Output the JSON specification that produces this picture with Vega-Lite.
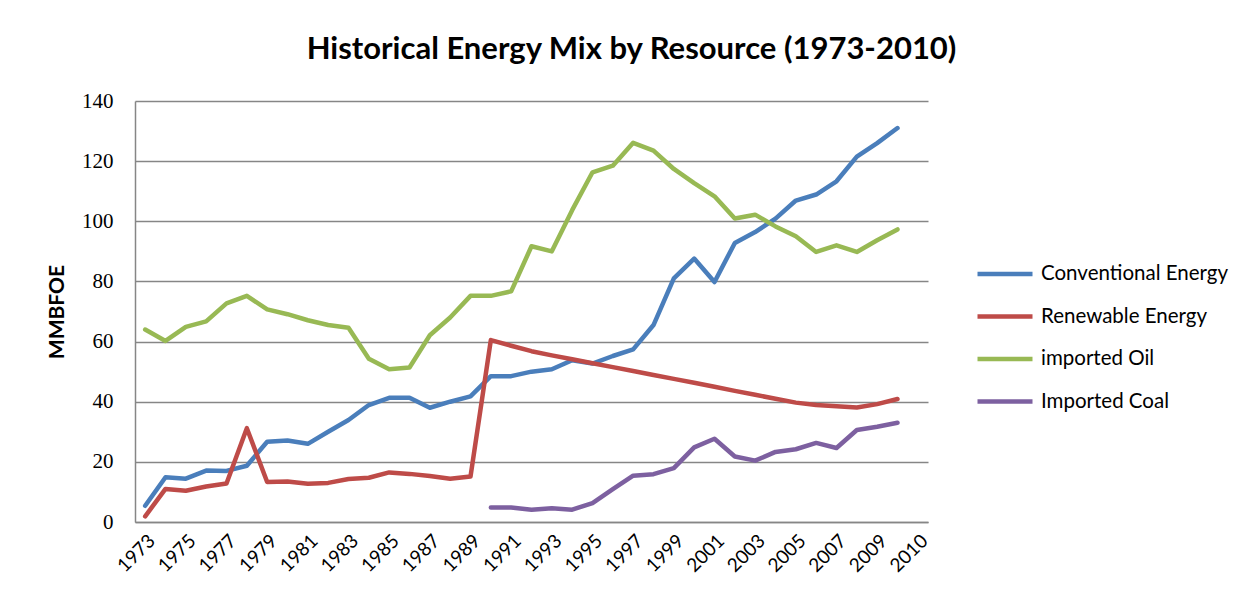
{
  "$schema": "https://vega.github.io/schema/vega-lite/v6.json",
  "autosize": {"type": "none"},
  "width": 793,
  "height": 421,
  "padding": {"left": 135, "top": 101, "right": 329, "bottom": 77},
  "background": "white",
  "title": {
    "text": "Historical Energy Mix by Resource (1973-2010)",
    "font": "Lato",
    "fontSize": 31,
    "fontWeight": "bold",
    "color": "#000000",
    "anchor": "middle",
    "dx": 100,
    "offset": 24
  },
  "config": {
    "view": {"stroke": null},
    "font": "Lato"
  },
  "data": {
    "values": [
      {"year": 1973, "series": "Conventional Energy", "value": 5.4},
      {"year": 1974, "series": "Conventional Energy", "value": 14.9},
      {"year": 1975, "series": "Conventional Energy", "value": 14.4},
      {"year": 1976, "series": "Conventional Energy", "value": 17.1},
      {"year": 1977, "series": "Conventional Energy", "value": 17.0},
      {"year": 1978, "series": "Conventional Energy", "value": 18.7},
      {"year": 1979, "series": "Conventional Energy", "value": 26.7},
      {"year": 1980, "series": "Conventional Energy", "value": 27.1},
      {"year": 1981, "series": "Conventional Energy", "value": 26.0},
      {"year": 1982, "series": "Conventional Energy", "value": 30.0},
      {"year": 1983, "series": "Conventional Energy", "value": 33.9},
      {"year": 1984, "series": "Conventional Energy", "value": 38.9},
      {"year": 1985, "series": "Conventional Energy", "value": 41.3},
      {"year": 1986, "series": "Conventional Energy", "value": 41.3},
      {"year": 1987, "series": "Conventional Energy", "value": 38.0},
      {"year": 1988, "series": "Conventional Energy", "value": 40.0},
      {"year": 1989, "series": "Conventional Energy", "value": 41.8},
      {"year": 1990, "series": "Conventional Energy", "value": 48.5},
      {"year": 1991, "series": "Conventional Energy", "value": 48.5},
      {"year": 1992, "series": "Conventional Energy", "value": 50.0},
      {"year": 1993, "series": "Conventional Energy", "value": 50.8},
      {"year": 1994, "series": "Conventional Energy", "value": 53.8},
      {"year": 1995, "series": "Conventional Energy", "value": 52.7},
      {"year": 1996, "series": "Conventional Energy", "value": 55.2},
      {"year": 1997, "series": "Conventional Energy", "value": 57.4},
      {"year": 1998, "series": "Conventional Energy", "value": 65.5},
      {"year": 1999, "series": "Conventional Energy", "value": 81.0},
      {"year": 2000, "series": "Conventional Energy", "value": 87.6},
      {"year": 2001, "series": "Conventional Energy", "value": 79.8},
      {"year": 2002, "series": "Conventional Energy", "value": 92.8},
      {"year": 2003, "series": "Conventional Energy", "value": 96.4},
      {"year": 2004, "series": "Conventional Energy", "value": 100.9},
      {"year": 2005, "series": "Conventional Energy", "value": 106.9},
      {"year": 2006, "series": "Conventional Energy", "value": 108.9},
      {"year": 2007, "series": "Conventional Energy", "value": 113.3},
      {"year": 2008, "series": "Conventional Energy", "value": 121.5},
      {"year": 2009, "series": "Conventional Energy", "value": 126.0},
      {"year": 2010, "series": "Conventional Energy", "value": 131.0},
      {"year": 1973, "series": "Renewable Energy", "value": 1.9},
      {"year": 1974, "series": "Renewable Energy", "value": 11.0},
      {"year": 1975, "series": "Renewable Energy", "value": 10.4},
      {"year": 1976, "series": "Renewable Energy", "value": 11.8},
      {"year": 1977, "series": "Renewable Energy", "value": 12.8},
      {"year": 1978, "series": "Renewable Energy", "value": 31.2},
      {"year": 1979, "series": "Renewable Energy", "value": 13.3},
      {"year": 1980, "series": "Renewable Energy", "value": 13.5},
      {"year": 1981, "series": "Renewable Energy", "value": 12.7},
      {"year": 1982, "series": "Renewable Energy", "value": 13.0},
      {"year": 1983, "series": "Renewable Energy", "value": 14.3},
      {"year": 1984, "series": "Renewable Energy", "value": 14.7},
      {"year": 1985, "series": "Renewable Energy", "value": 16.5},
      {"year": 1986, "series": "Renewable Energy", "value": 16.0},
      {"year": 1987, "series": "Renewable Energy", "value": 15.3},
      {"year": 1988, "series": "Renewable Energy", "value": 14.4},
      {"year": 1989, "series": "Renewable Energy", "value": 15.1},
      {"year": 1990, "series": "Renewable Energy", "value": 60.5},
      {"year": 1991, "series": "Renewable Energy", "value": 58.6},
      {"year": 1992, "series": "Renewable Energy", "value": 56.8},
      {"year": 1993, "series": "Renewable Energy", "value": 55.4},
      {"year": 1994, "series": "Renewable Energy", "value": 54.1},
      {"year": 1995, "series": "Renewable Energy", "value": 52.8},
      {"year": 1996, "series": "Renewable Energy", "value": 51.5},
      {"year": 1997, "series": "Renewable Energy", "value": 50.2},
      {"year": 1998, "series": "Renewable Energy", "value": 48.9},
      {"year": 1999, "series": "Renewable Energy", "value": 47.6},
      {"year": 2000, "series": "Renewable Energy", "value": 46.3},
      {"year": 2001, "series": "Renewable Energy", "value": 45.0},
      {"year": 2002, "series": "Renewable Energy", "value": 43.6},
      {"year": 2003, "series": "Renewable Energy", "value": 42.3},
      {"year": 2004, "series": "Renewable Energy", "value": 41.0},
      {"year": 2005, "series": "Renewable Energy", "value": 39.7},
      {"year": 2006, "series": "Renewable Energy", "value": 38.9},
      {"year": 2007, "series": "Renewable Energy", "value": 38.5},
      {"year": 2008, "series": "Renewable Energy", "value": 38.1},
      {"year": 2009, "series": "Renewable Energy", "value": 39.2},
      {"year": 2010, "series": "Renewable Energy", "value": 40.9},
      {"year": 1973, "series": "imported Oil", "value": 64.0},
      {"year": 1974, "series": "imported Oil", "value": 60.2},
      {"year": 1975, "series": "imported Oil", "value": 64.9},
      {"year": 1976, "series": "imported Oil", "value": 66.7},
      {"year": 1977, "series": "imported Oil", "value": 72.7},
      {"year": 1978, "series": "imported Oil", "value": 75.2},
      {"year": 1979, "series": "imported Oil", "value": 70.7},
      {"year": 1980, "series": "imported Oil", "value": 69.1},
      {"year": 1981, "series": "imported Oil", "value": 67.1},
      {"year": 1982, "series": "imported Oil", "value": 65.5},
      {"year": 1983, "series": "imported Oil", "value": 64.6},
      {"year": 1984, "series": "imported Oil", "value": 54.3},
      {"year": 1985, "series": "imported Oil", "value": 50.8},
      {"year": 1986, "series": "imported Oil", "value": 51.4},
      {"year": 1987, "series": "imported Oil", "value": 62.1},
      {"year": 1988, "series": "imported Oil", "value": 68.0},
      {"year": 1989, "series": "imported Oil", "value": 75.2},
      {"year": 1990, "series": "imported Oil", "value": 75.2},
      {"year": 1991, "series": "imported Oil", "value": 76.7},
      {"year": 1992, "series": "imported Oil", "value": 91.7},
      {"year": 1993, "series": "imported Oil", "value": 90.0},
      {"year": 1994, "series": "imported Oil", "value": 103.7},
      {"year": 1995, "series": "imported Oil", "value": 116.3},
      {"year": 1996, "series": "imported Oil", "value": 118.5},
      {"year": 1997, "series": "imported Oil", "value": 126.1},
      {"year": 1998, "series": "imported Oil", "value": 123.5},
      {"year": 1999, "series": "imported Oil", "value": 117.4},
      {"year": 2000, "series": "imported Oil", "value": 112.7},
      {"year": 2001, "series": "imported Oil", "value": 108.3},
      {"year": 2002, "series": "imported Oil", "value": 100.9},
      {"year": 2003, "series": "imported Oil", "value": 102.2},
      {"year": 2004, "series": "imported Oil", "value": 98.3},
      {"year": 2005, "series": "imported Oil", "value": 95.0},
      {"year": 2006, "series": "imported Oil", "value": 89.8},
      {"year": 2007, "series": "imported Oil", "value": 92.0},
      {"year": 2008, "series": "imported Oil", "value": 89.8},
      {"year": 2009, "series": "imported Oil", "value": 93.7},
      {"year": 2010, "series": "imported Oil", "value": 97.3},
      {"year": 1990, "series": "Imported Coal", "value": 4.8},
      {"year": 1991, "series": "Imported Coal", "value": 4.8},
      {"year": 1992, "series": "Imported Coal", "value": 4.1},
      {"year": 1993, "series": "Imported Coal", "value": 4.6},
      {"year": 1994, "series": "Imported Coal", "value": 4.1},
      {"year": 1995, "series": "Imported Coal", "value": 6.3},
      {"year": 1996, "series": "Imported Coal", "value": 10.9},
      {"year": 1997, "series": "Imported Coal", "value": 15.4},
      {"year": 1998, "series": "Imported Coal", "value": 15.9},
      {"year": 1999, "series": "Imported Coal", "value": 17.9},
      {"year": 2000, "series": "Imported Coal", "value": 24.8},
      {"year": 2001, "series": "Imported Coal", "value": 27.7},
      {"year": 2002, "series": "Imported Coal", "value": 21.8},
      {"year": 2003, "series": "Imported Coal", "value": 20.4},
      {"year": 2004, "series": "Imported Coal", "value": 23.3},
      {"year": 2005, "series": "Imported Coal", "value": 24.2},
      {"year": 2006, "series": "Imported Coal", "value": 26.3},
      {"year": 2007, "series": "Imported Coal", "value": 24.6},
      {"year": 2008, "series": "Imported Coal", "value": 30.6},
      {"year": 2009, "series": "Imported Coal", "value": 31.7},
      {"year": 2010, "series": "Imported Coal", "value": 33.0}
    ]
  },
  "mark": {"type": "line", "strokeWidth": 4.5, "strokeCap": "round", "strokeJoin": "round"},
  "encoding": {
    "x": {
      "field": "year",
      "type": "quantitative",
      "scale": {"domain": [1972.5, 2011.5], "nice": false, "zero": false},
      "axis": {
        "title": null,
        "values": [1973, 1975, 1977, 1979, 1981, 1983, 1985, 1987, 1989, 1991, 1993, 1995, 1997, 1999, 2001, 2003, 2005, 2007, 2009, 2011],
        "format": "d",
        "labelExpr": "datum.value == 2011 ? '2010' : datum.label",
        "labelAngle": -45,
        "labelFont": "Lato",
        "labelFontSize": 19,
        "labelColor": "#000000",
        "labelPadding": 9,
        "ticks": false,
        "grid": false,
        "domainColor": "#868686",
        "domainWidth": 1.5,
        "labelOverlap": false,
        "labelFlush": false
      }
    },
    "y": {
      "field": "value",
      "type": "quantitative",
      "scale": {"domain": [0, 140], "nice": false},
      "axis": {
        "title": "MMBFOE",
        "titleFont": "Lato",
        "titleFontSize": 21,
        "titleFontWeight": "bold",
        "titleColor": "#000000",
        "titlePadding": 14,
        "values": [0, 20, 40, 60, 80, 100, 120, 140],
        "labelFont": "Liberation Serif",
        "labelFontSize": 21,
        "labelColor": "#000000",
        "labelPadding": 22,
        "ticks": false,
        "grid": true,
        "gridColor": "#868686",
        "gridWidth": 1.5,
        "domainColor": "#868686",
        "domainWidth": 1.5
      }
    },
    "color": {
      "field": "series",
      "type": "nominal",
      "scale": {
        "domain": ["Conventional Energy", "Renewable Energy", "imported Oil", "Imported Coal"],
        "range": ["#4A7EBB", "#BE4B48", "#98B954", "#7D60A0"]
      },
      "legend": {
        "title": null,
        "orient": "none",
        "legendX": 840,
        "legendY": 143,
        "symbolType": "stroke",
        "symbolSize": 3025,
        "symbolStrokeWidth": 4.5,
        "labelFont": "Lato",
        "labelFontSize": 20.5,
        "labelColor": "#000000",
        "labelOffset": 6,
        "rowPadding": 1.5,
        "labelLimit": 300
      }
    }
  }
}
